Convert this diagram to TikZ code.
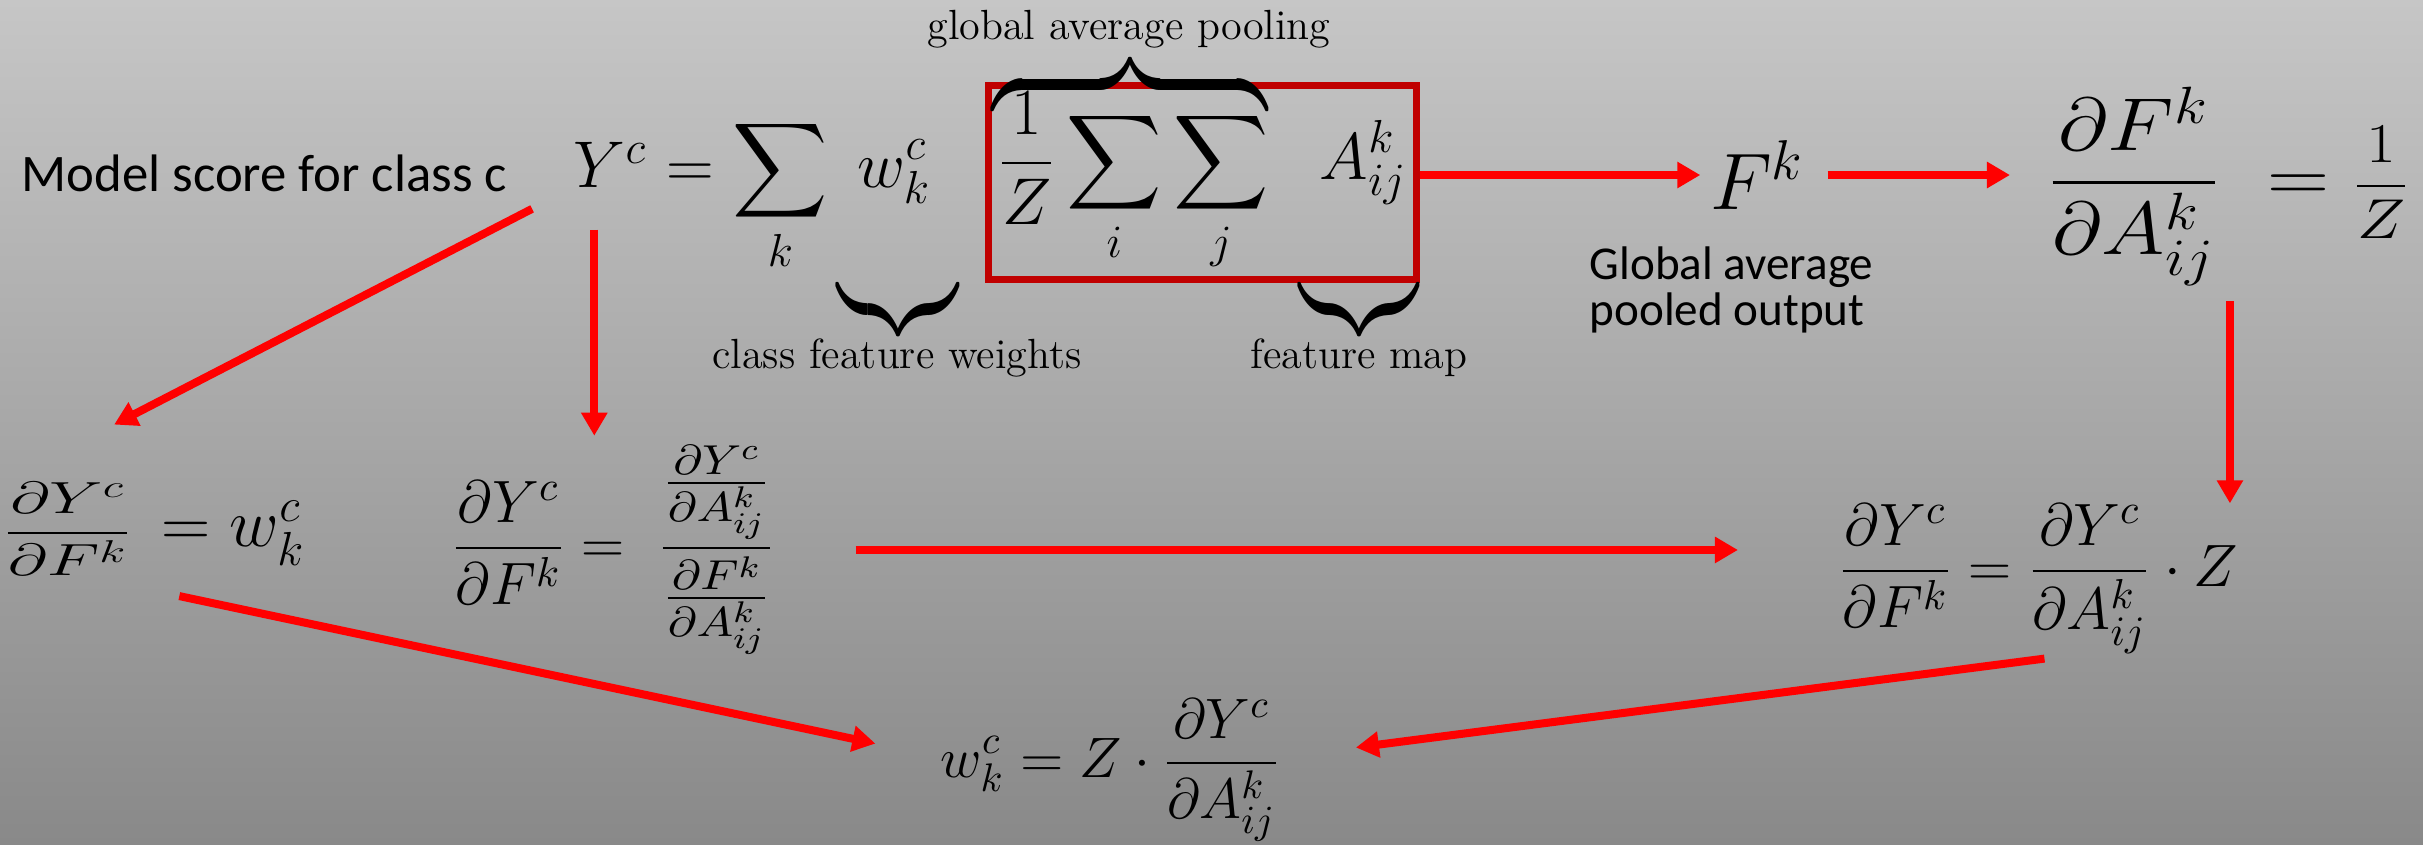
\RequirePackage{fix-cm}
\documentclass[tikz,border=0pt]{standalone}
\usepackage{amsmath,amssymb}
\usepackage{graphicx}
\usepackage{fontspec}
\setsansfont{Carlito}
\usepackage{xcolor}
\usepackage{tikz}
\usetikzlibrary{arrows.meta, positioning}

\definecolor{bgtop}{RGB}{198,198,198}
\definecolor{bgbottom}{RGB}{137,137,137}
\definecolor{boxred}{RGB}{192,0,0}

\begin{document}
\begin{tikzpicture}[
  x=0.01cm, y=-0.01cm,
  eq/.style={inner sep=0pt, font=\fontsize{#1}{#1}\selectfont},
  sans/.style={inner sep=0pt, font=\sffamily\fontsize{15}{18}\selectfont},
  note/.style={inner sep=0pt, font=\fontsize{12}{14}\selectfont},
  brace/.style={inner sep=0pt, font=\fontsize{18.8}{20}\selectfont},
  poolbox/.style={
    draw=boxred, line width=0.07cm,
    minimum width=4.27cm, minimum height=1.93cm
  },
  arrow/.style={-{Triangle[length=0.23cm, width=0.25cm]}, line width=0.08cm, red}
]

% ---- Background ----
\useasboundingbox (0,0) rectangle (2423,844);
\fill[top color=bgtop, bottom color=bgbottom] (0,0) rectangle (2423,844);

% ---- Top row ----
\node[sans, anchor=base west] (score) at (21,191) {Model score for class c};
\node[eq=18.8, anchor=base west] (Y) at (573,187) {$Y^c$};
\node[eq=18.8, anchor=base west] (sumw) at (Y.base east)
  {${}=\displaystyle\sum_k\; w_k^c$};
\node[eq=18.8, poolbox] (pool) at (1202.5,182.5)
  {$\displaystyle\frac{1}{Z}\sum_i\sum_j\hspace{0.4cm}A_{ij}^k$};
\node[eq=22.8] (fk) at (1757,175) {$F^k$};
\node[eq=21.3, anchor=base west] (dfa) at (2047,201)
  {\scalebox{1.15}[1]{$\displaystyle\frac{\partial F^k}{\partial A_{ij}^k}\;=
   \vcenter{\hbox{\scalebox{0.75}{$\displaystyle\frac{1}{Z}$}}}$}};
\node[sans, font=\sffamily\fontsize{13.4}{13}\selectfont,
      anchor=north west, align=left] (gapout) at (1589,246)
  {Global average\\pooled output};

% ---- Braces ----
\node[brace, anchor=south] (poolbrace) at (1130,107)
  {\scalebox{1}[1.5]{$\overbrace{\hspace{2.75cm}}$}};
\node[note, anchor=base] (poolnote) at (1129,39) {global average pooling};
\node[brace, anchor=north] (wbrace) at (898,287)
  {\scalebox{1}[1.5]{$\underbrace{\hspace{1.2cm}}$}};
\node[note, anchor=base] (wnote) at (897,368) {class feature weights};
\node[brace, anchor=north] (abrace) at (1359,287)
  {\scalebox{1}[1.5]{$\underbrace{\hspace{1.18cm}}$}};
\node[note, anchor=base] (anote) at (1359,368) {feature map};

% ---- Middle row ----
\node[eq=19.4, anchor=base west] (eq1) at (3,546)
  {$\vcenter{\hbox{\scalebox{1}[0.66]{$\displaystyle\frac{\partial Y^c}{\partial F^k}$}}}\,= w_k^c$};
\node[eq=17, anchor=base west] (eq2) at (451,563)
  {$\displaystyle\frac{\partial Y^c}{\partial F^k} =\;
   \mbox{\scalebox{1.17}[1]{$\displaystyle\frac{\frac{\partial Y^c}{\partial A_{ij}^k}}{\frac{\partial F^k}{\partial A_{ij}^k}}$}}$};
\node[eq=17, anchor=base west] (eq3) at (1838,586)
  {$\displaystyle\frac{\partial Y^c}{\partial F^k} = \frac{\partial Y^c}{\partial A_{ij}^k}\cdot Z$};

% ---- Bottom row ----
\node[eq=16.2, anchor=base west] (wz) at (940,777)
  {$\displaystyle w_k^c = Z\cdot\frac{\partial Y^c}{\partial A_{ij}^k}$};

% ---- Arrows ----
\draw[arrow, shorten >=0.09cm] (pool.east |- fk.west) -- (fk.west);
\draw[arrow, shorten <=0.23cm, shorten >=0.37cm] (fk.east) -- (fk.east -| dfa.west);
\draw[arrow, shorten <=0.15cm]
  ([xshift=-0.09cm]eq3.north east |- dfa.south) -- ([xshift=-0.09cm]eq3.north east);

\draw[arrow, shorten <=0.46cm, shorten >=1.25cm] (Y.south west) -- (eq1.north west);
\draw[arrow, shorten <=0.42cm, shorten >=0.09cm]
  ([xshift=-0.16cm]Y.south) -- ([xshift=-0.16cm]Y.south |- eq2.north);
\draw[arrow, shorten <=0.8cm, shorten >=1cm] (eq2.east) -- (eq2.east -| eq3.west);

\draw[arrow, shorten <=0.97cm, shorten >=0.66cm]
  ([xshift=-0.7cm]eq1.south) -- ([yshift=0.13cm]wz.west);
\draw[arrow, shorten <=1.96cm, shorten >=0.76cm]
  ([yshift=0.21cm]eq3.south east) -- ([yshift=0.13cm]wz.east);

\end{tikzpicture}
\end{document}
